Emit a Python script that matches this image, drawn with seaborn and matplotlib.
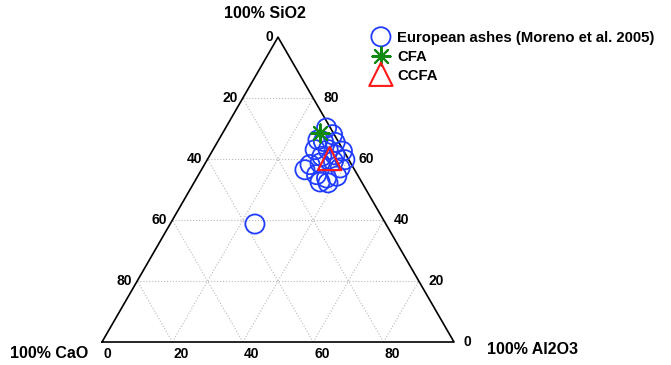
import numpy as np
import pandas as pd
import matplotlib.pyplot as plt
import seaborn as sns

# European fly ashes (Moreno et al. 2005), wt% in the SiO2-Al2O3-CaO system
ash_sio2 = [70.2, 68.0, 65.5, 65.8, 63.1, 62.6, 59.8, 58.2, 58.7, 59.3, 57.1,
            56.5, 54.9, 53.8, 54.4, 52.2, 63.1, 61.4, 60.9, 52.5, 66.3, 38.7]
ash_al2o3 = [28.7, 31.5, 33.5, 30.0, 29.0, 37.0, 39.1, 30.0, 32.6, 36.1, 39.1,
             29.4, 33.5, 36.9, 39.5, 38.1, 32.7, 35.5, 32.0, 35.7, 28.2, 24.1]
ash_cao = [1.1, 0.5, 1.0, 4.2, 7.9, 0.4, 1.1, 11.8, 8.7, 4.6, 3.8,
           14.1, 11.6, 9.3, 6.1, 9.7, 4.2, 3.1, 7.1, 11.8, 5.5, 37.2]

cfa_sio2, cfa_al2o3, cfa_cao = [68.6], [27.7], [3.8]
ccfa_sio2, ccfa_al2o3, ccfa_cao = [60.2], [34.6], [5.2]

tick_values = [0, 20, 40, 60, 80]
grid_values = [20, 40, 60, 80]

SQ3 = np.sqrt(3) / 2


def to_xy(sio2, al2o3, cao):
    sio2, al2o3, cao = (np.asarray(v, dtype=float) for v in (sio2, al2o3, cao))
    tot = sio2 + al2o3 + cao
    si, al = sio2 / tot, al2o3 / tot
    return al + si / 2, si * SQ3


def frame(sio2, al2o3, cao):
    x, y = to_xy(sio2, al2o3, cao)
    return pd.DataFrame({'x': x, 'y': y})


sns.set_style('white')
plt.rcParams['font.family'] = ['Liberation Sans', 'DejaVu Sans']
plt.rcParams['font.weight'] = 'bold'
plt.rcParams['text.color'] = 'black'

fig = plt.figure(figsize=(6.71, 3.65), dpi=100)
ax = fig.add_axes([0, 0, 1, 1])
scale = 352.0  # pixels per unit edge length
ax.set_xlim(-102 / scale, (671 - 102) / scale)
ax.set_ylim(-23 / scale, (365 - 23) / scale)
ax.axis('off')

# dotted grid
for g in grid_values:
    t = g / 100
    for a, b in [((t, 0, 1 - t), (t, 1 - t, 0)),      # SiO2 const
                 ((0, t, 1 - t), (1 - t, t, 0)),      # Al2O3 const
                 ((0, 1 - t, t), (1 - t, 0, t))]:     # CaO const
        xa, ya = to_xy(*a)
        xb, yb = to_xy(*b)
        ax.plot([xa, xb], [ya, yb], color='#b8b8b8', ls=':', lw=0.8, zorder=1)

# triangle outline
vx, vy = to_xy([0, 0, 100, 0], [0, 100, 0, 0], [100, 0, 0, 100])
ax.plot(vx, vy, color='black', lw=1.2, zorder=2)

# tick labels
tk = dict(fontsize=10, fontweight='bold', color='black', textcoords='offset pixels')
for v in tick_values:
    t = v / 100
    # CaO on left edge
    ax.annotate(str(v), to_xy(1 - t, 0, t), xytext=(-5, 0), ha='right', va='center', **tk)
    # SiO2 on right edge
    ax.annotate(str(v), to_xy(t, 1 - t, 0), xytext=(10, 0), ha='left', va='center', **tk)
    # Al2O3 on bottom edge
    ax.annotate(str(v), to_xy(0, t, 1 - t), xytext=(1, -5), ha='left', va='top', **tk)

lab = dict(fontsize=11.5, fontweight='bold', color='black', textcoords='offset pixels')
ax.annotate('100% SiO2', to_xy(100, 0, 0), xytext=(-13, 24), ha='center', va='center', **lab)
ax.annotate('100% CaO', to_xy(0, 0, 100), xytext=(-14, -11), ha='right', va='center', **lab)
ax.annotate('100% Al2O3', to_xy(0, 100, 0), xytext=(33, -8), ha='left', va='center', **lab)

# data
sns.scatterplot(data=frame(ash_sio2, ash_al2o3, ash_cao), x='x', y='y', ax=ax,
                marker='o', s=190, facecolor='none', edgecolor='#1f3cff',
                linewidth=1.3, label='European ashes (Moreno et al. 2005)', zorder=3)
sns.scatterplot(data=frame(cfa_sio2, cfa_al2o3, cfa_cao), x='x', y='y', ax=ax,
                marker=(8, 2, 0), s=170, color='#128a12', linewidth=1.5,
                label='CFA', zorder=4)
sns.scatterplot(data=frame(ccfa_sio2, ccfa_al2o3, ccfa_cao), x='x', y='y', ax=ax,
                marker='^', s=280, facecolor='none', edgecolor='#ff1a1a',
                linewidth=1.5, label='CCFA', zorder=5)

ax.set_xlabel('')
ax.set_ylabel('')
leg = ax.legend(loc='upper left', bbox_to_anchor=(372 / 671, 1 - 31 / 365),
                bbox_transform=fig.transFigure, frameon=False, borderpad=0,
                borderaxespad=0, handlelength=1.2, handletextpad=0.5,
                labelspacing=0.32, scatterpoints=1, scatteryoffsets=[0.5],
                prop={'size': 10.7, 'weight': 'bold'})
for txt in leg.get_texts():
    txt.set_color('black')

fig.savefig('out.png', dpi=100)
